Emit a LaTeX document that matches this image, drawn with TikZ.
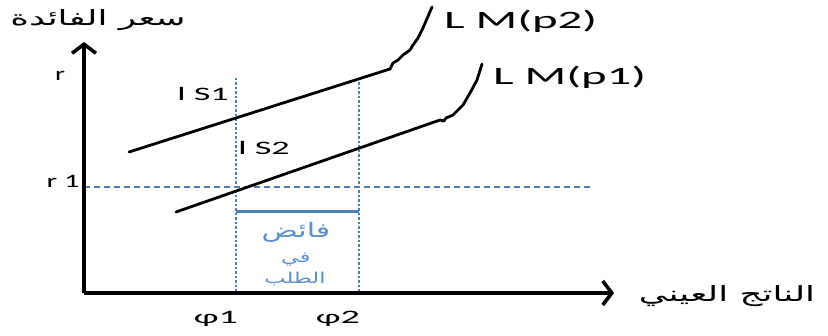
\documentclass[tikz,border=0pt]{standalone}
\usepackage{fontspec}
\usepackage{graphicx}
\usetikzlibrary{arrows.meta}
\TeXXeTstate=1
\setmainfont{Carlito}
\newfontfamily\arabicfont[Script=Arabic]{DejaVu Sans}
\definecolor{dblue}{HTML}{4A7EBB}
\definecolor{tblue}{HTML}{5A8FD2}
\newcommand\sxx[2]{\scalebox{#1}[1]{#2}}
\tikzset{
  axis/.style={line width=3.6pt, -{Straight Barb[length=9pt,width=24pt,line width=3.6pt]}},
  curve/.style={line width=2.8pt, line join=round, line cap=round},
  rline/.style={dblue, line width=1.2pt, dash pattern=on 6pt off 4pt},
  vline/.style={dblue, line width=1.8pt, dash pattern=on 2.5pt off 2pt},
  gap/.style={dblue, line width=3pt},
  lab/.style={inner sep=0pt, font=\fontsize{19}{19}\selectfont},
  lmlab/.style={inner sep=0pt, font=\fontsize{25}{25}\selectfont, anchor=west},
  ar/.style={inner sep=0pt, font=\fontsize{21}{21}\arabicfont},
}
\begin{document}
\begin{tikzpicture}[x=1pt,y=-1pt]
\useasboundingbox (0,0) rectangle (828,336);
% axes
\coordinate (O) at (84,293);
\coordinate (ytip) at (84,42);
\coordinate (xtip) at (614,293);
% dashed r1 line
\coordinate (r1a) at (84,187);
\coordinate (r1b) at (590,187);
\draw[rline] (r1a) -- (r1b);
% vertical dotted lines
\coordinate (v1t) at (236,78);
\coordinate (v1b) at (236,293);
\coordinate (v2t) at (359,78);
\coordinate (v2b) at (359,293);
\draw[vline] (v1t) -- (v1b);
\draw[vline] (v2t) -- (v2b);
% surplus bar
\coordinate (g1) at (236,212);
\coordinate (g2) at (359,212);
\draw[gap] (g1) -- (g2);
\draw[axis] (O) -- (ytip);
\draw[axis] (O) -- (xtip);
% IS1 + LM(p2)
\coordinate (a1) at (129,152);
\coordinate (a2) at (390,69);
\coordinate (a3) at (432,7);
\draw[curve] (a1) -- (a2) -- (393,63) -- (398,60) -- (403,55) -- (410,50) -- (413,45) -- (418,38) -- (423,28) -- (a3);
% IS2 + LM(p1)
\coordinate (b1) at (176,212);
\coordinate (b2) at (440,120);
\coordinate (b3) at (482,64);
\draw[curve] (b1) -- (b2) -- (444,121) -- (446,118) -- (453,115) -- (458,110) -- (463,105) -- (470,93) -- (477,80) -- (b3);
% labels
\node[ar] (ylab) at (98,20) {\sxx{1.7}{\beginR سعر الفائدة\endR}};
\node[ar] (xlab) at (727,296) {\sxx{1.7}{\beginR الناتج العيني\endR}};
\node[lab] (rl) at (60,76) {\sxx{1.5}{r}};
\node[lab] (r1l) at (63,181) {\sxx{1.6}{r 1}};
\node[lab] (is1) at (203,94) {\sxx{1.9}{l S1}};
\node[lab] (is2) at (264,148) {\sxx{1.9}{l S2}};
\node[lab] (p1) at (216,319) {\sxx{2.0}{φ1}};
\node[lab] (p2) at (338,319) {\sxx{2.0}{φ2}};
\node[lmlab] (lm2) at (444,21) {\sxx{1.95}{L M(p2)}};
\node[lmlab] (lm1) at (493,77) {\sxx{1.95}{L M(p1)}};
\node[ar, text=tblue, font=\fontsize{20}{20}\arabicfont] (s1) at (296,232) {\sxx{1.5}{\beginR فائض\endR}};
\node[ar, text=tblue, font=\fontsize{15}{15}\arabicfont] (s2) at (296,260) {\sxx{1.5}{\beginR في\endR}};
\node[ar, text=tblue, font=\fontsize{15}{15}\arabicfont] (s3) at (295,279) {\sxx{1.5}{\beginR الطلب\endR}};
\end{tikzpicture}
\end{document}
